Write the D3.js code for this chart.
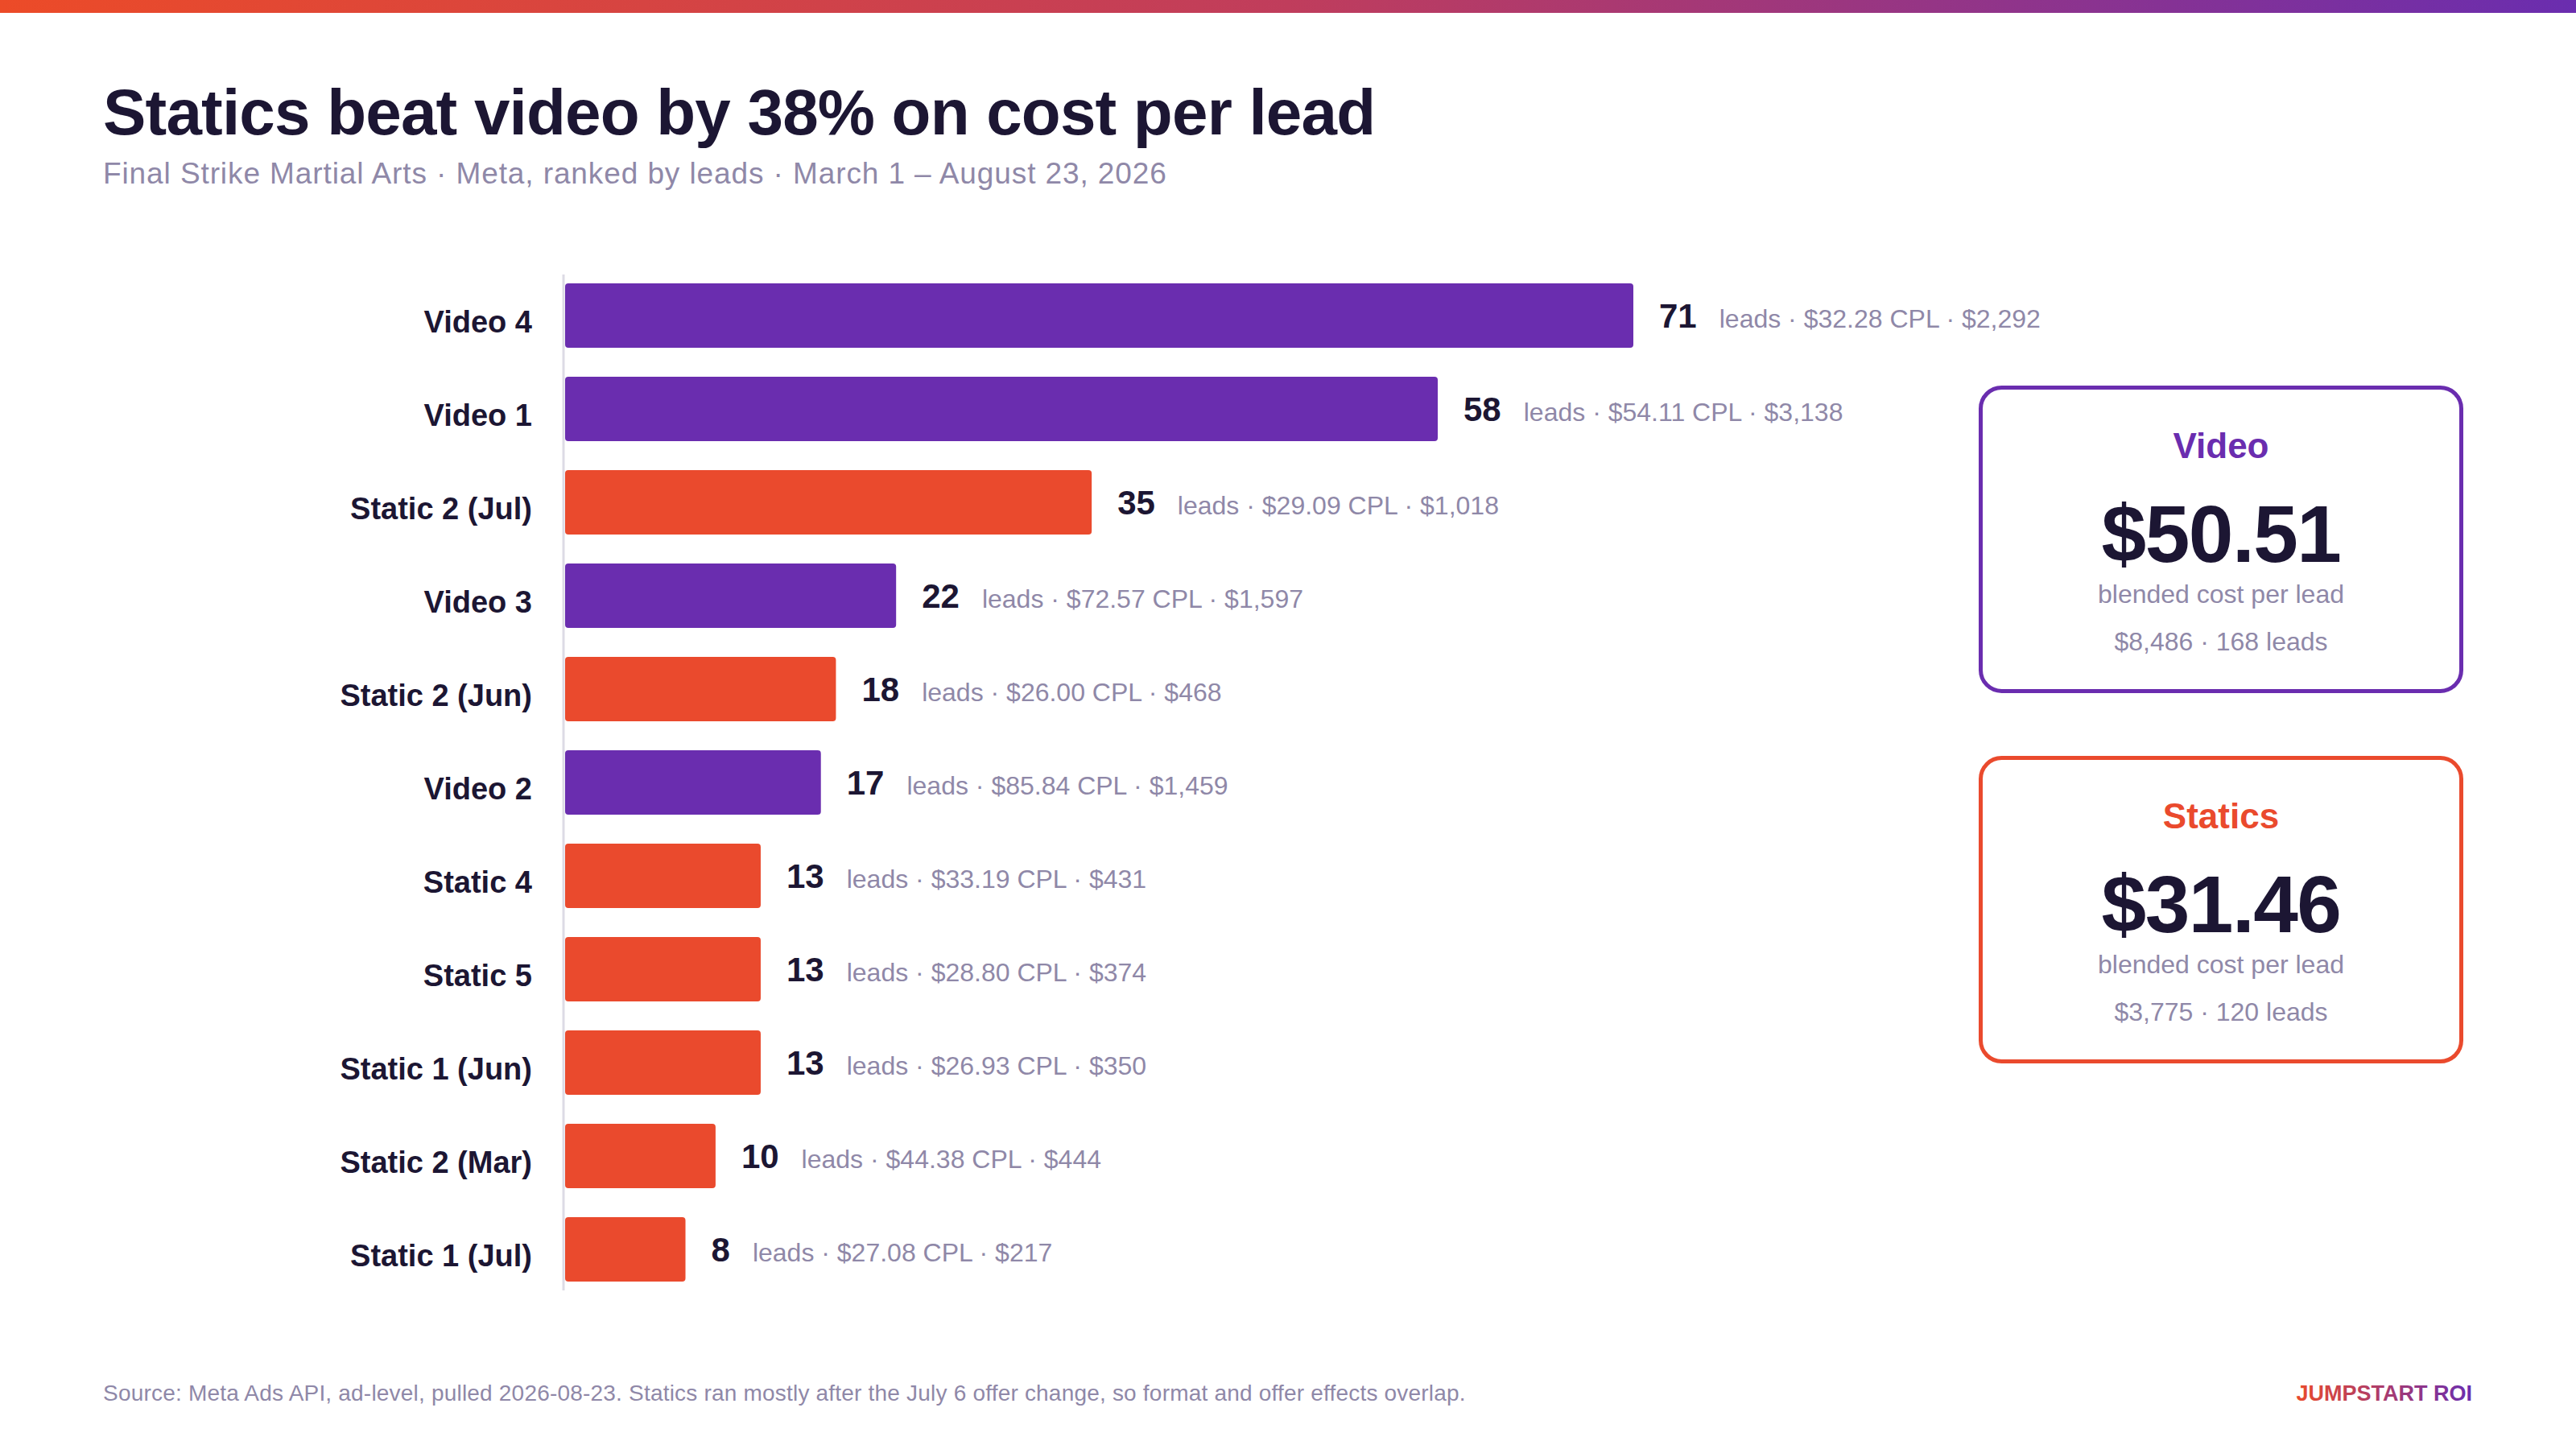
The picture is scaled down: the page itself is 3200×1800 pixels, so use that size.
<!DOCTYPE html>
<html lang="en">
<head>
  <meta charset="UTF-8" />
  <title>Statics beat video on cost per lead</title>
  <script src="https://d3js.org/d3.v7.min.js"></script>
  <style>
    body {
      margin: 0;
      background: #ffffff;
      font-family: "Liberation Sans", Arial, sans-serif;
    }
    svg {
      display: block;
      background: #ffffff;
    }
    .cat-label {
      font-size: 38px;
      font-weight: bold;
      fill: #1c1633;
      text-anchor: end;
    }
    .val-num {
      font-size: 42px;
      font-weight: bold;
      fill: #1c1633;
    }
    .val-detail {
      font-size: 32px;
      font-weight: normal;
      fill: #8f88a8;
    }
    .card-title {
      font-size: 44px;
      font-weight: bold;
      text-anchor: middle;
    }
    .card-big {
      font-size: 100px;
      font-weight: bold;
      fill: #1c1633;
      text-anchor: middle;
      letter-spacing: -1.5px;
    }
    .card-sub {
      font-size: 32px;
      fill: #8f88a8;
      text-anchor: middle;
    }
  </style>
</head>
<body>
  <svg width="3200" height="1800"></svg>

  <script>
    // ad-level rows, ranked by leads
    const ads = ["Video 4", "Video 1", "Static 2 (Jul)", "Video 3", "Static 2 (Jun)", "Video 2",
                 "Static 4", "Static 5", "Static 1 (Jun)", "Static 2 (Mar)", "Static 1 (Jul)"];
    const formats = ["video", "video", "static", "video", "static", "video",
                     "static", "static", "static", "static", "static"];
    const leads = [71, 58, 35, 22, 18, 17, 13, 13, 13, 10, 8];
    const cpl = [32.28, 54.11, 29.09, 72.57, 26.00, 85.84, 33.19, 28.80, 26.93, 44.38, 27.08];
    const spend = [2292, 3138, 1018, 1597, 468, 1459, 431, 374, 350, 444, 217];

    // blended totals per format
    const cardNames = ["Video", "Statics"];
    const cardFormats = ["video", "static"];
    const cardCpl = [50.51, 31.46];
    const cardSpend = [8486, 3775];
    const cardLeads = [168, 120];

    const colors = { video: "#6a2daf", static: "#ea4a2d" };
    const ink = "#1c1633";
    const muted = "#8f88a8";

    const svg = d3.select("svg"),
          width = +svg.attr("width"),
          height = +svg.attr("height");

    const defs = svg.append("defs");

    // top stripe + brand gradient
    const stripe = defs.append("linearGradient")
      .attr("id", "stripeGrad")
      .attr("x1", "0%").attr("x2", "100%");
    stripe.append("stop").attr("offset", "0%").attr("stop-color", "#ec4b28");
    stripe.append("stop").attr("offset", "50%").attr("stop-color", "#c03d5c");
    stripe.append("stop").attr("offset", "100%").attr("stop-color", "#6a2daf");

    svg.append("rect")
      .attr("x", 0).attr("y", 0)
      .attr("width", width).attr("height", 16)
      .attr("fill", "url(#stripeGrad)");

    // title block
    svg.append("text")
      .attr("x", 128).attr("y", 167)
      .style("font-size", "80px")
      .style("font-weight", "bold")
      .style("letter-spacing", "-0.8px")
      .style("fill", ink)
      .text("Statics beat video by 38% on cost per lead");

    svg.append("text")
      .attr("x", 128).attr("y", 228)
      .style("font-size", "37px")
      .style("letter-spacing", "0.9px")
      .style("fill", muted)
      .text("Final Strike Martial Arts \u00b7 Meta, ranked by leads \u00b7 March 1 \u2013 August 23, 2026");

    // scales
    const rows = ads.map((name, i) => ({
      name, format: formats[i], leads: leads[i], cpl: cpl[i], spend: spend[i]
    }));

    const x = d3.scaleLinear()
      .domain([0, d3.max(leads)])
      .range([702, 2029]);

    const y = d3.scaleBand()
      .domain(ads)
      .range([334, 1610])
      .paddingInner(0.31)
      .paddingOuter(0.155);

    // baseline axis
    svg.append("line")
      .attr("x1", 700).attr("x2", 700)
      .attr("y1", 341).attr("y2", 1603)
      .attr("stroke", "#dddbe5")
      .attr("stroke-width", 3);

    const row = svg.selectAll(".row")
      .data(rows)
      .enter()
      .append("g")
      .attr("class", "row");

    row.append("rect")
      .attr("x", x(0))
      .attr("y", d => y(d.name))
      .attr("width", d => x(d.leads) - x(0))
      .attr("height", y.bandwidth())
      .attr("rx", 4)
      .attr("fill", d => colors[d.format]);

    row.append("text")
      .attr("class", "cat-label")
      .attr("x", 661)
      .attr("y", d => y(d.name) + y.bandwidth() / 2 + 21)
      .text(d => d.name);

    const fmtMoney = d3.format(",.0f");

    const val = row.append("text")
      .attr("x", d => x(d.leads) + 32)
      .attr("y", d => y(d.name) + y.bandwidth() / 2 + 15);

    val.append("tspan")
      .attr("class", "val-num")
      .text(d => d.leads);

    val.append("tspan")
      .attr("class", "val-detail")
      .attr("dx", 28)
      .text(d => `leads \u00b7 $${d.cpl.toFixed(2)} CPL \u00b7 $${fmtMoney(d.spend)}`);

    // summary cards
    const cards = cardNames.map((name, i) => ({
      name, format: cardFormats[i], cpl: cardCpl[i], spend: cardSpend[i], leads: cardLeads[i]
    }));

    const cardY = d3.scaleBand()
      .domain(cardNames)
      .range([479, 1321])
      .paddingInner(0.17);

    const cardX = 2458, cardW = 602, cx = cardX + cardW / 2;

    const card = svg.selectAll(".card")
      .data(cards)
      .enter()
      .append("g")
      .attr("class", "card")
      .attr("transform", d => `translate(0,${cardY(d.name)})`);

    card.append("rect")
      .attr("x", cardX + 2.5)
      .attr("y", 2.5)
      .attr("width", cardW - 5)
      .attr("height", cardY.bandwidth() - 5)
      .attr("rx", 26)
      .attr("fill", "#ffffff")
      .attr("stroke", d => colors[d.format])
      .attr("stroke-width", 5);

    card.append("text")
      .attr("class", "card-title")
      .attr("x", cx).attr("y", 90)
      .style("fill", d => colors[d.format])
      .text(d => d.name);

    card.append("text")
      .attr("class", "card-big")
      .attr("x", cx).attr("y", 219)
      .text(d => `$${d.cpl.toFixed(2)}`);

    card.append("text")
      .attr("class", "card-sub")
      .attr("x", cx).attr("y", 270)
      .text("blended cost per lead");

    card.append("text")
      .attr("class", "card-sub")
      .attr("x", cx).attr("y", 329)
      .text(d => `$${fmtMoney(d.spend)} \u00b7 ${d.leads} leads`);

    // footer
    svg.append("text")
      .attr("x", 128).attr("y", 1740)
      .style("font-size", "28px")
      .style("letter-spacing", "0.2px")
      .style("fill", muted)
      .text("Source: Meta Ads API, ad-level, pulled 2026-08-23. Statics ran mostly after the July 6 offer change, so format and offer effects overlap.");

    const brand = defs.append("linearGradient")
      .attr("id", "brandGrad")
      .attr("x1", "0%").attr("x2", "100%");
    brand.append("stop").attr("offset", "0%").attr("stop-color", "#e94a2d");
    brand.append("stop").attr("offset", "100%").attr("stop-color", "#6a2daf");

    svg.append("text")
      .attr("x", 3071).attr("y", 1740)
      .attr("text-anchor", "end")
      .style("font-size", "27px")
      .style("font-weight", "bold")
      .style("fill", "url(#brandGrad)")
      .text("JUMPSTART ROI");
  </script>
</body>
</html>
